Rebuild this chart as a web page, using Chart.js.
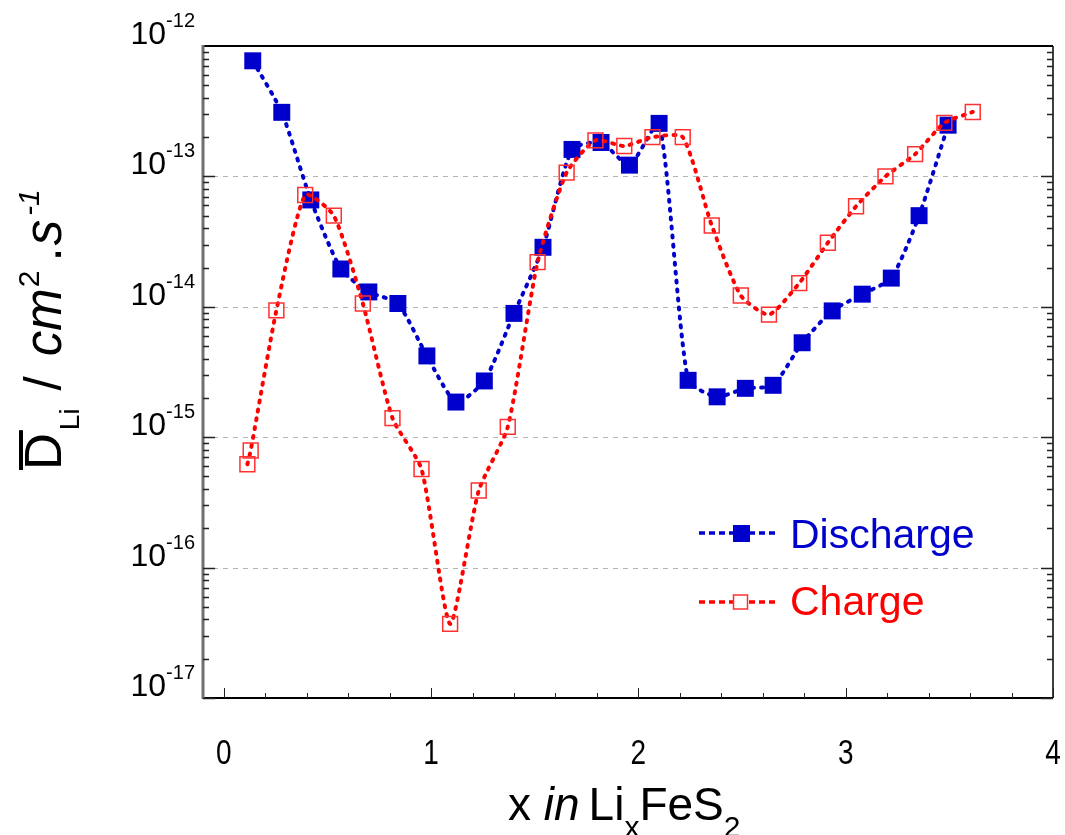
<!DOCTYPE html>
<html>
<head>
<meta charset="utf-8">
<script src="https://cdn.jsdelivr.net/npm/chart.js@4"></script>
<style>
  body { margin: 0; background: #fff; }
</style>
</head>
<body>
<canvas id="diffChart" width="1065" height="835"></canvas>
<script>
// x in LixFeS2 and mean Li diffusion coefficient (cm2/s)
const dischargeX = [0.14, 0.28, 0.42, 0.565, 0.70, 0.84, 0.98, 1.12, 1.257, 1.40, 1.54, 1.68, 1.82, 1.957, 2.10,
  2.24, 2.38, 2.516, 2.65, 2.79, 2.935, 3.08, 3.22, 3.354, 3.494];
const dischargeD = [7.7e-13, 3.1e-13, 6.6e-14, 1.95e-14, 1.3e-14, 1.06e-14, 4.2e-15, 1.86e-15, 2.7e-15, 8.9e-15,
  2.86e-14, 1.61e-13, 1.82e-13, 1.22e-13, 2.55e-13, 2.73e-15, 2.04e-15, 2.37e-15, 2.5e-15, 5.3e-15,
  9.3e-15, 1.25e-14, 1.66e-14, 5.0e-14, 2.47e-13];

const chargeX = [0.114, 0.13, 0.254, 0.393, 0.531, 0.671, 0.814, 0.954, 1.092, 1.23, 1.37, 1.514, 1.654, 1.793,
  1.932, 2.068, 2.214, 2.354, 2.494, 2.63, 2.776, 2.914, 3.05, 3.192, 3.335, 3.476, 3.613];
const chargeD = [6.2e-16, 7.9e-16, 9.4e-15, 7.2e-14, 5.0e-14, 1.06e-14, 1.4e-15, 5.7e-16, 3.7e-17, 3.9e-16,
  1.2e-15, 2.2e-14, 1.07e-13, 1.89e-13, 1.71e-13, 2.0e-13, 2.0e-13, 4.2e-14, 1.22e-14, 8.7e-15,
  1.52e-14, 3.1e-14, 5.9e-14, 1.0e-13, 1.48e-13, 2.57e-13, 3.12e-13];

const xTicks = [0, 1, 2, 3, 4];
const yExponents = [-12, -13, -14, -15, -16, -17];
const seriesNames = ["Discharge", "Charge"];

const BLUE = "#0000cc";
const RED = "#ff0000";
const SANS = "'Liberation Sans', Arial, sans-serif";

function toPoints(xs, ys) {
  return xs.map((x, i) => ({ x: x, y: ys[i] }));
}

// draws a run of text pieces (sub/superscripts) one after the other
function drawRich(ctx, segs, x, y) {
  let cx = x;
  for (const s of segs) {
    ctx.font = s.font;
    ctx.fillText(s.t, cx, y + (s.dy || 0));
    cx += ctx.measureText(s.t).width + (s.gap || 0);
  }
  return cx - x;
}

function richWidth(ctx, segs) {
  let w = 0;
  for (const s of segs) {
    ctx.font = s.font;
    w += ctx.measureText(s.t).width + (s.gap || 0);
  }
  return w;
}

const framePlugin = {
  id: "frame",
  beforeDatasetsDraw(chart) {
    const ctx = chart.ctx;
    const a = chart.chartArea;
    const ys = chart.scales.y;
    ctx.save();
    // dashed decade grid lines
    ctx.strokeStyle = "#b4b4b4";
    ctx.lineWidth = 1;
    ctx.setLineDash([5, 5]);
    for (const e of yExponents) {
      const py = Math.round(ys.getPixelForValue(Math.pow(10, e))) + 0.5;
      if (py <= a.top + 2 || py >= a.bottom - 2) continue;
      ctx.beginPath();
      ctx.moveTo(a.left, py);
      ctx.lineTo(a.right, py);
      ctx.stroke();
    }
    ctx.restore();
  },
  afterDatasetsDraw(chart) {
    const ctx = chart.ctx;
    const a = chart.chartArea;
    const xs = chart.scales.x;
    const ys = chart.scales.y;
    ctx.save();

    // frame
    ctx.setLineDash([]);
    ctx.strokeStyle = "#000";
    ctx.lineWidth = 2;
    ctx.beginPath();
    ctx.moveTo(a.left, a.top);
    ctx.lineTo(a.right, a.top);
    ctx.moveTo(a.left, a.bottom);
    ctx.lineTo(a.right, a.bottom);
    ctx.stroke();
    ctx.lineWidth = 1.5;
    ctx.beginPath();
    ctx.moveTo(a.right, a.top);
    ctx.lineTo(a.right, a.bottom);
    ctx.stroke();
    ctx.strokeStyle = "#707070";
    ctx.lineWidth = 3;
    ctx.beginPath();
    ctx.moveTo(a.left, a.top - 1);
    ctx.lineTo(a.left, a.bottom + 1);
    ctx.stroke();

    // y ticks, both sides, pointing in
    ctx.strokeStyle = "#222";
    ctx.lineWidth = 1.5;
    for (let e = -17; e < -12; e++) {
      for (let m = 1; m <= 9; m++) {
        const v = m * Math.pow(10, e);
        const py = Math.round(ys.getPixelForValue(v)) + 0.5;
        const len = m === 1 ? 12 : 6;
        ctx.beginPath();
        ctx.moveTo(a.left, py);
        ctx.lineTo(a.left + len, py);
        ctx.moveTo(a.right, py);
        ctx.lineTo(a.right - len, py);
        ctx.stroke();
      }
    }

    // x ticks, bottom, pointing up
    ctx.lineWidth = 1;
    for (let i = 0; i <= 20; i++) {
      const v = i * 0.2;
      const px = Math.round(xs.getPixelForValue(v)) + 0.5;
      const len = i % 5 === 0 ? 10 : 5;
      ctx.beginPath();
      ctx.moveTo(px, a.bottom);
      ctx.lineTo(px, a.bottom - len);
      ctx.stroke();
    }

    // x tick labels (tall, narrow digits)
    ctx.fillStyle = "#000";
    ctx.textAlign = "center";
    ctx.textBaseline = "alphabetic";
    ctx.font = "35px " + SANS;
    for (const t of xTicks) {
      ctx.save();
      ctx.translate(xs.getPixelForValue(t), 764);
      ctx.scale(0.8, 1);
      ctx.fillText(String(t), 0, 0);
      ctx.restore();
    }

    // y tick labels 10^e
    ctx.textAlign = "left";
    for (const e of yExponents) {
      const py = ys.getPixelForValue(Math.pow(10, e));
      const segs = [
        { t: "10", font: "32px " + SANS },
        { t: String(e), font: "20px " + SANS, dy: -17 }
      ];
      const w = richWidth(ctx, segs);
      drawRich(ctx, segs, 195 - w, py - 2);
    }

    // x axis title: x in LixFeS2
    const xt = [
      { t: "x ", font: "46px " + SANS },
      { t: "in", font: "italic 46px " + SANS, gap: 9 },
      { t: "Li", font: "46px " + SANS },
      { t: "x", font: "30px " + SANS, dy: 17 },
      { t: "FeS", font: "46px " + SANS },
      { t: "2", font: "30px " + SANS, dy: 17 }
    ];
    drawRich(ctx, xt, 508, 820);

    // y axis title: D(bar)Li / cm2.s-1
    ctx.save();
    ctx.translate(61, 470);
    ctx.rotate(-Math.PI / 2);
    ctx.font = "51px " + SANS;
    const dW = ctx.measureText("D").width;
    ctx.fillRect(0, -42, dW + 3, 4);
    const yt = [
      { t: "D", font: "51px " + SANS, gap: 3 },
      { t: "Li", font: "28px " + SANS, dy: 18, gap: 18 },
      { t: "/", font: "51px " + SANS, gap: 20 },
      { t: "cm", font: "italic 51px " + SANS, gap: 1 },
      { t: "2", font: "30px " + SANS, dy: -22, gap: 9 },
      { t: ".", font: "51px " + SANS, gap: 2 },
      { t: "s", font: "italic 51px " + SANS, gap: 4 },
      { t: "-1", font: "italic 30px " + SANS, dy: -22 }
    ];
    drawRich(ctx, yt, 0, 0);
    ctx.restore();

    // legend
    const rows = [
      { name: seriesNames[0], color: BLUE, y: 533, filled: true, base: 548 },
      { name: seriesNames[1], color: RED, y: 602, filled: false, base: 615 }
    ];
    for (const r of rows) {
      ctx.strokeStyle = r.color;
      ctx.lineWidth = 3.5;
      ctx.setLineDash([6, 4]);
      ctx.lineCap = "butt";
      ctx.beginPath();
      ctx.moveTo(699, r.y);
      ctx.lineTo(779, r.y);
      ctx.stroke();
      ctx.setLineDash([]);
      if (r.filled) {
        ctx.fillStyle = r.color;
        ctx.fillRect(733, r.y - 8, 17, 17);
      } else {
        ctx.fillStyle = "#fff";
        ctx.fillRect(733, r.y - 7, 15, 15);
        ctx.strokeStyle = "#ff3030";
        ctx.lineWidth = 1.5;
        ctx.strokeRect(733.5, r.y - 7, 14, 14);
      }
      ctx.fillStyle = r.color;
      ctx.font = "41px " + SANS;
      ctx.fillText(r.name, 790, r.base);
    }
    ctx.restore();
  }
};

const ctx = document.getElementById("diffChart").getContext("2d");

new Chart(ctx, {
  type: "line",
  data: {
    datasets: [
      {
        label: seriesNames[0],
        data: toPoints(dischargeX, dischargeD),
        order: 2,
        borderColor: BLUE,
        borderWidth: 4,
        borderDash: [2, 7],
        borderCapStyle: "round",
        tension: 0.2,
        pointStyle: "rect",
        pointRadius: 12,
        pointBackgroundColor: BLUE,
        pointBorderColor: BLUE,
        pointBorderWidth: 0
      },
      {
        label: seriesNames[1],
        data: toPoints(chargeX, chargeD),
        order: 1,
        borderColor: RED,
        borderWidth: 4,
        borderDash: [2, 7],
        borderCapStyle: "round",
        tension: 0.2,
        pointStyle: "rect",
        pointRadius: 10.5,
        pointBackgroundColor: "rgba(0,0,0,0)",
        pointBorderColor: "#ff3030",
        pointBorderWidth: 1.5
      }
    ]
  },
  options: {
    responsive: false,
    animation: false,
    devicePixelRatio: 1,
    layout: {
      padding: { left: 203, right: 12, top: 46, bottom: 137 }
    },
    scales: {
      x: { type: "linear", min: -0.1, max: 4, display: false },
      y: { type: "logarithmic", min: 1e-17, max: 1e-12, display: false }
    },
    plugins: {
      legend: { display: false },
      tooltip: { enabled: false }
    }
  },
  plugins: [framePlugin]
});
</script>
</body>
</html>
